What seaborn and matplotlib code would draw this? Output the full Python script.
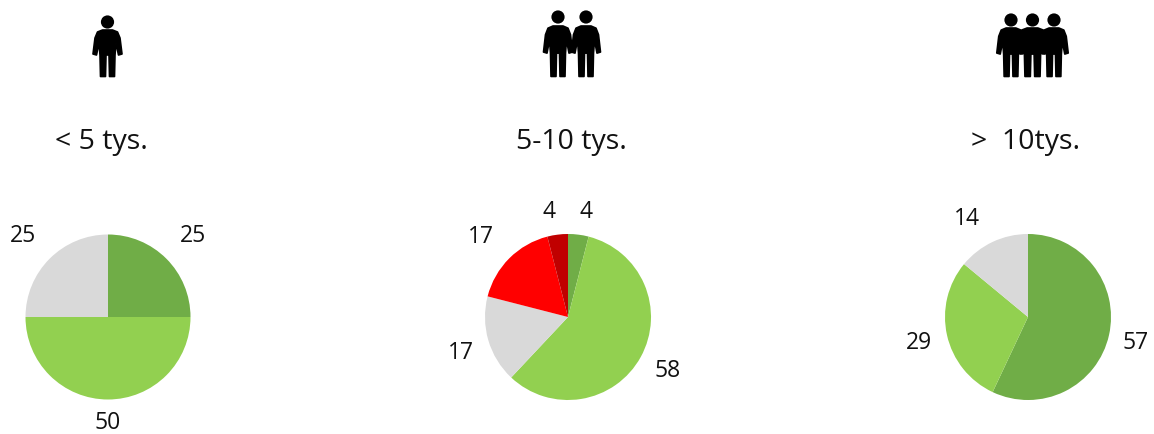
import matplotlib
matplotlib.use("Agg")
import matplotlib.pyplot as plt
from matplotlib.patches import Polygon, Circle
import seaborn as sns

sns.set_theme(style="white")
plt.rcParams['font.family'] = ['Open Sans', 'DejaVu Sans']

W, H = 1154, 434
DARK_GREEN, LIGHT_GREEN, GRAY, RED, DARK_RED = "#70AD47", "#92D050", "#D9D9D9", "#FF0000", "#C00000"

titles = ["< 5 tys.", "5-10 tys.", ">  10tys."]
values_low = [25, 50, 25]
values_mid = [4, 58, 17, 17, 4]
values_high = [57, 29, 14]
colors_low = [DARK_GREEN, LIGHT_GREEN, GRAY]
colors_mid = [DARK_GREEN, LIGHT_GREEN, GRAY, RED, DARK_RED]
colors_high = [DARK_GREEN, LIGHT_GREEN, GRAY]

sns.set_palette([DARK_GREEN, LIGHT_GREEN, GRAY, RED, DARK_RED])

fig = plt.figure(figsize=(W / 100, H / 100), dpi=100, facecolor="white")
bg = fig.add_axes([0, 0, 1, 1])
bg.set_xlim(0, W)
bg.set_ylim(H, 0)
bg.axis("off")

BODY = [(-5, 30), (5, 30), (10, 32), (12.5, 38), (14.5, 54), (11, 55), (8.5, 43), (7.5, 55), (7, 76.5),
        (2, 76.5), (1.5, 55), (-1.5, 55), (-2, 76.5), (-7, 76.5), (-7.5, 55), (-8.5, 43), (-11, 55),
        (-14.5, 54), (-12.5, 38), (-10, 32)]


def person(cx, head_y, shoulder_y, wide=1.0):
    s = (77 - shoulder_y) / 47
    bg.add_patch(Circle((cx, head_y), 6.6, fc="black", ec="none"))
    pts = [(cx + x * wide, 77 - (77 - y) * s) for x, y in BODY]
    bg.add_patch(Polygon(pts, closed=True, fc="black", ec="black", lw=1.2, joinstyle="round"))


person(107.5, 22, 30)
person(558, 17, 26)
person(586, 17, 26)
person(1011, 20, 28, 0.98)
person(1032.5, 20, 28, 1.08)
person(1054, 20, 28, 0.98)

for x, t in zip([101, 571.5, 1026], titles):
    bg.text(x, 142, t, ha="center", va="center", fontsize=20.5, color="#111111")


def pie(cx, cy, r, vals, cols, labels):
    ax = fig.add_axes([(cx - r) / W, 1 - (cy + r) / H, 2 * r / W, 2 * r / H])
    ax.pie(vals, colors=cols, startangle=90, counterclock=False, radius=1, wedgeprops={"linewidth": 0})
    ax.set_xlim(-1, 1)
    ax.set_ylim(-1, 1)
    ax.axis("off")
    for (x, y), v in zip(labels, vals):
        bg.text(x, y, str(v), ha="center", va="center", fontsize=16.5, color="#111111")


pie(108, 317, 82.5, values_low, colors_low, [(193, 236), (108, 423), (23, 236)])
pie(568, 317, 83, values_mid, colors_mid, [(586, 212), (668, 371), (461, 353), (481, 237), (549, 212)])
pie(1028, 317, 83, values_high, colors_high, [(1136, 343), (919, 343), (967, 219)])

fig.savefig("out.png", dpi=100)
